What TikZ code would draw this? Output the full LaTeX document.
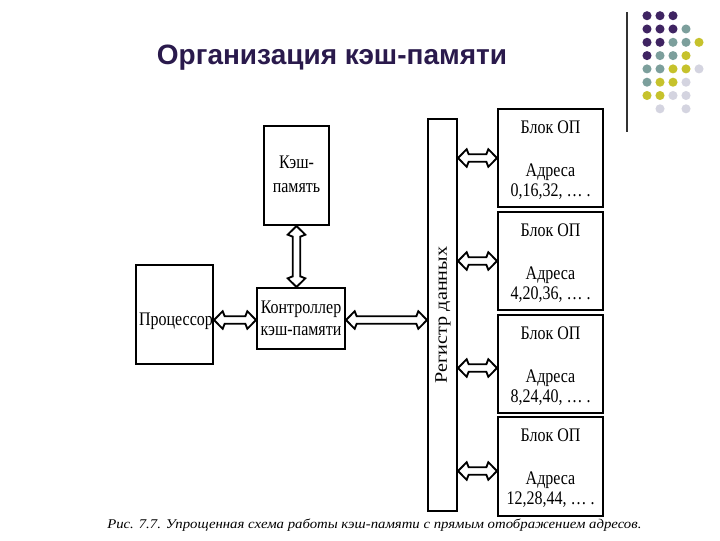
\documentclass[tikz,border=0pt]{standalone}
\usepackage{fontspec}
\setmainfont{Liberation Serif}
\newfontfamily\titlefont{Liberation Sans}
\usetikzlibrary{calc,fit}
\definecolor{dP}{HTML}{3F2462}
\definecolor{dT}{HTML}{7C9F9C}
\definecolor{dY}{HTML}{C6C22C}
\definecolor{dL}{HTML}{D4D4E0}
\definecolor{titlec}{HTML}{2A1A4C}
\tikzset{
  box/.style={draw, line width=1.5pt, inner sep=0pt},
  txt/.style={font=\fontsize{12}{14}\selectfont, inner sep=0pt, anchor=base},
  arr/.style={draw, fill=white, line width=1.4pt, line join=miter},
  dot/.style={circle, fill=#1, inner sep=0pt, minimum size=6.8pt},
}
\newcommand\tall[1]{\scalebox{1}[1.2]{#1}}
% horizontal double arrow: y from start, x from start and end
\newcommand\hdarrow[2]{%
  \path[arr] let \p1=(#1), \p2=(#2) in
    (\x1,\y1) -- (\x1+6.5pt,\y1+6.6pt) -- (\x1+8pt,\y1+2.8pt) -- (\x2-8pt,\y1+2.8pt)
    -- (\x2-6.5pt,\y1+6.6pt) -- (\x2,\y1) -- (\x2-6.5pt,\y1-6.6pt) -- (\x2-8pt,\y1-2.8pt)
    -- (\x1+8pt,\y1-2.8pt) -- (\x1+6.5pt,\y1-6.6pt) -- cycle;}
% vertical double arrow: x from start (upper), y from both
\newcommand\vdarrow[2]{%
  \path[arr] let \p1=(#1), \p2=(#2) in
    (\x1,\y1) -- (\x1+6.6pt,\y1-6.5pt) -- (\x1+2.8pt,\y1-8pt) -- (\x1+2.8pt,\y2+8pt)
    -- (\x1+6.6pt,\y2+6.5pt) -- (\x1,\y2) -- (\x1-6.6pt,\y2+6.5pt) -- (\x1-2.8pt,\y2+8pt)
    -- (\x1-2.8pt,\y1-8pt) -- (\x1-6.6pt,\y1-6.5pt) -- cycle;}
\begin{document}
\begin{tikzpicture}[x=0.75pt,y=-0.75pt]
\useasboundingbox[fill=white] (0,0) rectangle (720,540);

% decoration top right
\draw[line width=1.2pt, black!80] (627,12) coordinate (vtop) -- (627,132) coordinate (vbot);
\foreach \c [count=\i] in {dP,dP,dP}{\node[dot=\c] (r1c\i) at ({634+13*\i},15.7) {};}
\foreach \c [count=\i] in {dP,dP,dP,dT}{\node[dot=\c] (r2c\i) at ({634+13*\i},29) {};}
\foreach \c [count=\i] in {dP,dP,dT,dT,dY}{\node[dot=\c] (r3c\i) at ({634+13*\i},42.3) {};}
\foreach \c [count=\i] in {dP,dT,dT,dY}{\node[dot=\c] (r4c\i) at ({634+13*\i},55.6) {};}
\foreach \c [count=\i] in {dT,dT,dY,dY,dL}{\node[dot=\c] (r5c\i) at ({634+13*\i},68.9) {};}
\foreach \c [count=\i] in {dT,dY,dY,dL}{\node[dot=\c] (r6c\i) at ({634+13*\i},82.2) {};}
\foreach \c [count=\i] in {dY,dY,dL,dL}{\node[dot=\c] (r7c\i) at ({634+13*\i},95.5) {};}
\node[dot=dL] (r8c2) at (660,108.8) {};
\node[dot=dL] (r8c4) at (686,108.8) {};

% title
\node[font=\titlefont\bfseries\fontsize{21}{24}\selectfont, text=titlec, anchor=base, inner sep=0pt] (title) at (332,64) {Организация кэш-памяти};

% boxes
\node[box, fit={(264,126) (329,225)}] (cache) {};
\node[box, fit={(136,265) (213,364)}] (proc) {};
\node[box, fit={(257,288) (345,349)}] (ctrl) {};
\node[box, fit={(428,119) (457,511)}] (reg) {};
\node[box, fit={(498,109) (603,207)}] (b1) {};
\node[box, fit={(498,212) (603,310)}] (b2) {};
\node[box, fit={(498,315) (603,413)}] (b3) {};
\node[box, fit={(498,417) (603,516)}] (b4) {};

% texts
\node[txt] (cacheA) at (296.5,168) {\tall{Кэш-}};
\node[txt] (cacheB) at (296.5,192) {\tall{память}};
\node[txt] (procT) at (176,325) {\tall{Процессор}};
\node[txt] (ctrlA) at (301,313) {\tall{Контроллер}};
\node[txt] (ctrlB) at (301,335) {\tall{кэш-памяти}};
\node[font=\fontsize{12}{14}\selectfont, inner sep=0pt, rotate=90] (regT) at (443,315) {\scalebox{1.26}[1.1]{Регистр данных}};
\foreach \b/\t/\n in {b1/109/{0,16,32, … .}, b2/212/{4,20,36, … .}, b3/315/{8,24,40, … .}, b4/417/{12,28,44, … .}}{
  \node[txt] (\b a) at (550.5,\t+24) {\tall{Блок ОП}};
  \node[txt] (\b b) at (550.5,\t+67) {\tall{Адреса}};
  \node[txt] (\b c) at (550.5,\t+87) {\tall{\n}};
}

% connectors
\vdarrow{cache.south}{ctrl.north}
\hdarrow{proc.east |- 0,320}{ctrl.west}
\hdarrow{ctrl.east |- 0,320}{reg.west}
\hdarrow{reg.east |- 0,158}{b1.west}
\hdarrow{reg.east |- 0,261}{b2.west}
\hdarrow{reg.east |- 0,368}{b3.west}
\hdarrow{reg.east |- 0,471}{b4.west}

% caption
\node[font=\itshape\fontsize{10}{12}\selectfont, anchor=base west, inner sep=0pt] (cap) at (107,528) {\scalebox{1.107}[1]{Рис. 7.7. Упрощенная схема работы кэш-памяти с прямым отображением адресов.}};
\end{tikzpicture}
\end{document}
